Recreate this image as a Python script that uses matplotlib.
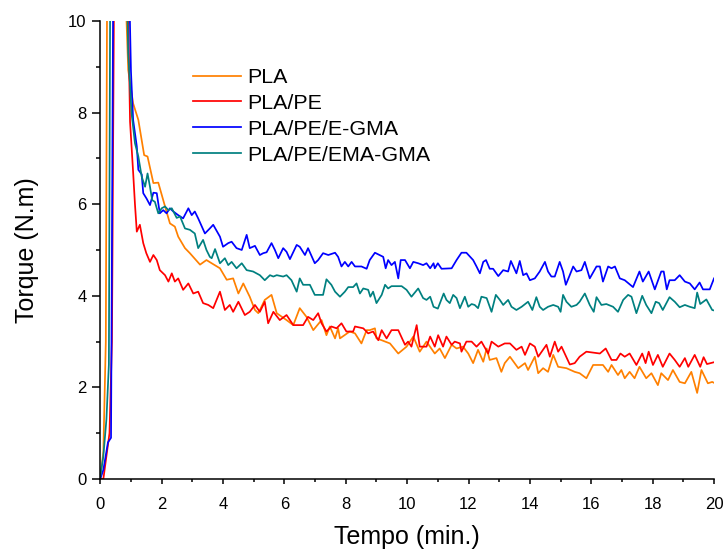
import matplotlib
matplotlib.use('Agg')
import matplotlib.pyplot as plt
from matplotlib.ticker import MultipleLocator

plt.rcParams['font.family'] = ['Liberation Sans', 'DejaVu Sans']

# PLA
pla_t = [0, 0.1, 0.18, 0.24, 0.5, 0.84, 0.91, 1.07, 1.24, 1.43, 1.54, 1.73, 1.89, 2.11, 2.27,
         2.43, 2.54, 2.76, 2.92, 3.25, 3.46, 3.63, 3.9, 4.12, 4.33, 4.5, 4.66, 4.87, 5.04, 5.15,
         5.36, 5.58, 5.75, 6.07, 6.29, 6.5, 6.72, 6.94, 7.21, 7.37, 7.48, 7.65, 7.75, 7.81, 8.13,
         8.3, 8.51, 8.68, 8.78, 8.95, 9.0, 9.17, 9.44, 9.71, 9.98, 10.2, 10.41, 10.63, 10.9, 11.06,
         11.23, 11.45, 11.61, 11.82, 11.99, 12.15, 12.31, 12.48, 12.59, 12.69, 12.91, 13.07, 13.18,
         13.35, 13.62, 13.84, 13.94, 14.16, 14.27, 14.43, 14.59, 14.76, 14.92, 15.19, 15.46, 15.62,
         15.84, 16.06, 16.38, 16.55, 16.66, 16.87, 16.98, 17.09, 17.25, 17.41, 17.57, 17.79, 17.96,
         18.17, 18.28, 18.5, 18.66, 18.88, 19.05, 19.26, 19.45, 19.59, 19.8, 19.94, 20.0]
pla_v = [0, 0.6, 3.0, 14, 25, 10.3, 8.93, 8.2, 7.84, 7.07, 7.04, 6.46, 6.47, 5.95, 5.58,
         5.51, 5.29, 5.04, 4.93, 4.68, 4.78, 4.71, 4.6, 4.35, 4.38, 4.05, 4.27, 3.98, 3.69, 3.62,
         3.91, 4.02, 3.62, 3.47, 3.36, 3.73, 3.54, 3.25, 3.47, 3.14, 3.33, 3.07, 3.29, 3.07, 3.22,
         3.18, 2.96, 3.25, 3.25, 3.29, 3.07, 3.03, 2.96, 2.74, 2.89, 3.11, 2.78, 3.0, 2.74, 2.85,
         2.64, 2.93, 2.85, 2.89, 2.74, 2.53, 2.82, 2.56, 2.85, 2.6, 2.64, 2.34, 2.53,
         2.67, 2.42, 2.53, 2.38, 2.67, 2.31, 2.42, 2.34, 2.71, 2.45, 2.42, 2.34, 2.31,
         2.2, 2.49, 2.49, 2.34, 2.49, 2.27, 2.38, 2.2, 2.34, 2.2, 2.45, 2.2, 2.31,
         2.05, 2.31, 2.16, 2.38, 2.12, 2.09, 2.34, 1.88, 2.38, 2.09, 2.12, 2.1]

# PLA/PE
pe_t = [0, 0.1, 0.2, 0.3, 0.38, 0.46, 0.62, 0.9, 0.97, 1.07, 1.13, 1.19, 1.29, 1.4, 1.5, 1.62,
        1.73, 1.84, 1.94, 2.11, 2.22, 2.33, 2.43, 2.54, 2.7, 2.87, 3.03, 3.19, 3.35, 3.52, 3.68,
        3.9, 4.06, 4.22, 4.33, 4.5, 4.71, 4.87, 5.04, 5.2, 5.36, 5.47, 5.64, 5.85, 6.07, 6.29,
        6.61, 6.77, 6.94, 7.1, 7.21, 7.37, 7.53, 7.7, 7.86, 8.02, 8.24, 8.3, 8.57, 8.73, 8.89,
        9.06, 9.17, 9.33, 9.49, 9.71, 9.93, 10.03, 10.14, 10.31, 10.41, 10.63, 10.75, 10.9, 11.01,
        11.17, 11.28, 11.45, 11.55, 11.72, 11.77, 11.93, 12.1, 12.26, 12.42, 12.64, 12.75, 12.97,
        13.18, 13.35, 13.56, 13.73, 13.84, 14.0, 14.16, 14.27, 14.54, 14.65, 14.81, 14.92, 15.03,
        15.3, 15.46, 15.62, 15.84, 16.28, 16.47, 16.66, 16.82, 16.95, 17.09, 17.25, 17.47, 17.66,
        17.77, 17.87, 18.01, 18.17, 18.33, 18.55, 18.72, 18.88, 19.05, 19.16, 19.37, 19.55, 19.66,
        19.77, 19.94, 20.0]
pe_v = [0, 0, 0.5, 1.0, 3.0, 12, 25, 10.5, 7.8, 6.7, 6.0, 5.4, 5.55, 5.15, 4.93, 4.74,
        4.89, 4.78, 4.56, 4.45, 4.31, 4.49, 4.31, 4.38, 4.13, 4.27, 4.05, 4.09, 3.84, 3.8, 3.73,
        4.09, 3.69, 3.8, 3.65, 3.87, 3.58, 3.65, 3.8, 3.65, 3.87, 3.4, 3.65, 3.47, 3.58, 3.36,
        3.36, 3.54, 3.47, 3.62, 3.4, 3.22, 3.33, 3.29, 3.4, 3.22, 3.22, 3.33, 3.29, 3.18, 3.22,
        3.03, 3.25, 3.07, 3.25, 3.25, 2.93, 3.0, 2.89, 3.36, 2.89, 2.89, 3.11, 2.89, 3.14,
        2.89, 3.11, 2.93, 3.0, 2.96, 2.78, 3.0, 3.0, 2.89, 3.0, 2.74, 3.0, 2.89,
        2.96, 2.96, 2.82, 2.89, 2.71, 2.96, 2.89, 2.67, 2.93, 2.67, 3.0, 2.78, 2.89,
        2.5, 2.53, 2.67, 2.78, 2.74, 2.85, 2.6, 2.6, 2.74, 2.67, 2.74, 2.49, 2.74,
        2.53, 2.78, 2.49, 2.71, 2.45, 2.74, 2.6, 2.45, 2.64, 2.45, 2.71, 2.45, 2.66,
        2.51, 2.54, 2.55]

# PLA/PE/E-GMA
egma_t = [0, 0.1, 0.25, 0.35, 0.43, 0.6, 0.95, 1.0, 1.07, 1.19, 1.24, 1.35, 1.4, 1.51, 1.62,
          1.73, 1.84, 1.94, 2.05, 2.16, 2.27, 2.38, 2.54, 2.7, 2.87, 2.98, 3.08, 3.19, 3.41, 3.57,
          3.68, 3.9, 4.0, 4.17, 4.28, 4.44, 4.61, 4.77, 4.87, 5.04, 5.2, 5.31, 5.42, 5.58, 5.69,
          5.8, 5.96, 6.07, 6.18, 6.4, 6.5, 6.67, 6.77, 6.99, 7.1, 7.26, 7.43, 7.65, 7.75, 7.86,
          7.97, 8.08, 8.19, 8.3, 8.51, 8.68, 8.78, 8.95, 9.1, 9.22, 9.3, 9.38, 9.49, 9.6, 9.71,
          9.79, 9.93, 10.09, 10.2, 10.36, 10.52, 10.63, 10.75, 10.86, 10.9, 11.0, 11.12, 11.45,
          11.61, 11.77, 11.93, 12.15, 12.26, 12.37, 12.48, 12.57, 12.69, 12.8, 12.97, 13.13, 13.29,
          13.38, 13.56, 13.67, 13.78, 13.89, 14.0, 14.16, 14.32, 14.49, 14.59, 14.7, 14.81, 14.97,
          15.08, 15.17, 15.28, 15.41, 15.52, 15.68, 15.79, 15.95, 16.17, 16.28, 16.38, 16.55,
          16.66, 16.77, 16.93, 17.09, 17.36, 17.57, 17.68, 17.87, 18.07, 18.28, 18.36, 18.46,
          18.55, 18.72, 18.88, 19.05, 19.21, 19.37, 19.53, 19.64, 19.86, 20.0]
egma_v = [0, 0.2, 0.8, 0.9, 12, 25, 10.5, 8.9, 7.84, 7.26, 6.75, 6.65, 6.24, 6.12, 5.98,
          6.25, 6.24, 5.8, 5.87, 5.8, 5.91, 5.84, 5.76, 5.69, 5.91, 5.76, 5.84, 5.69, 5.36, 5.47,
          5.55, 5.29, 5.07, 5.15, 5.18, 5.04, 5.0, 5.33, 5.04, 5.09, 4.89, 4.93, 4.95, 5.15, 5.0,
          4.82, 5.04, 4.96, 4.8, 5.11, 5.07, 4.89, 5.04, 4.71, 4.78, 4.93, 4.89, 4.94, 4.85, 4.64,
          4.74, 4.64, 4.74, 4.64, 4.64, 4.59, 4.78, 4.94, 4.89, 4.85, 4.6, 4.78, 4.67, 4.74, 4.38,
          4.78, 4.78, 4.6, 4.74, 4.71, 4.67, 4.71, 4.6, 4.71, 4.6, 4.71, 4.59, 4.6,
          4.78, 4.94, 4.94, 4.78, 4.64, 4.49, 4.74, 4.78, 4.59, 4.59, 4.43, 4.56, 4.53,
          4.76, 4.49, 4.76, 4.45, 4.49, 4.34, 4.38, 4.53, 4.74, 4.53, 4.42, 4.42, 4.74,
          4.53, 4.24, 4.42, 4.64, 4.53, 4.56, 4.74, 4.38, 4.64, 4.64, 4.31, 4.64,
          4.6, 4.64, 4.38, 4.34, 4.19, 4.53, 4.31, 4.53, 4.14, 4.53, 4.53, 4.14,
          4.34, 4.34, 4.45, 4.31, 4.27, 4.14, 4.29, 4.14, 4.14, 4.38]

# PLA/PE/EMA-GMA
emagma_t = [0, 0.1, 0.2, 0.28, 0.33, 0.55, 0.86, 0.91, 1.02, 1.13, 1.24, 1.35, 1.46, 1.54, 1.62,
            1.69, 1.78, 1.89, 2.0, 2.11, 2.22, 2.33, 2.49, 2.6, 2.76, 2.92, 3.08, 3.19, 3.35, 3.46,
            3.57, 3.63, 3.74, 3.9, 4.06, 4.17, 4.28, 4.44, 4.61, 4.77, 4.98, 5.2, 5.36, 5.53, 5.64,
            5.75, 5.96, 6.07, 6.23, 6.4, 6.5, 6.61, 6.83, 6.99, 7.16, 7.26, 7.37, 7.53, 7.65, 7.81,
            7.97, 8.08, 8.24, 8.35, 8.46, 8.57, 8.73, 8.8, 8.89, 9.0, 9.17, 9.28, 9.38, 9.49, 9.82,
            9.98, 10.14, 10.36, 10.52, 10.63, 10.75, 10.86, 11.0, 11.19, 11.28, 11.39, 11.5, 11.61,
            11.72, 11.88, 11.99, 12.1, 12.2, 12.31, 12.42, 12.59, 12.75, 12.89, 13.02, 13.13, 13.29,
            13.4, 13.56, 13.73, 13.94, 14.08, 14.21, 14.32, 14.43, 14.59, 14.76, 14.92, 15.0, 15.08,
            15.19, 15.35, 15.52, 15.62, 15.79, 15.95, 16.08, 16.17, 16.33, 16.49, 16.71, 16.87,
            17.04, 17.2, 17.31, 17.47, 17.66, 17.79, 17.96, 18.1, 18.21, 18.33, 18.55, 18.72, 18.88,
            19.05, 19.21, 19.37, 19.45, 19.55, 19.75, 19.94, 20.0]
emagma_v = [0.05, 0.5, 1.3, 2.5, 12, 25, 11, 9.29, 7.98, 7.33, 7.04, 6.6, 6.38, 6.67, 6.38,
            6.09, 6.05, 5.8, 5.91, 5.95, 5.87, 5.91, 5.7, 5.73, 5.47, 5.44, 5.36, 5.04, 5.22, 5.0,
            4.85, 4.82, 5.02, 4.71, 4.82, 4.67, 4.74, 4.6, 4.71, 4.56, 4.53, 4.45, 4.34, 4.45, 4.42,
            4.45, 4.42, 4.45, 4.34, 4.09, 4.38, 4.24, 4.24, 4.02, 4.02, 4.02, 4.36, 4.24, 4.09, 3.98,
            4.09, 4.19, 4.19, 4.27, 4.05, 4.16, 4.13, 3.98, 4.09, 3.84, 4.02, 4.24, 4.16, 4.21, 4.21,
            4.13, 3.98, 4.16, 3.95, 3.91, 3.98, 3.76, 3.72, 4.05, 3.91, 3.84, 4.02, 3.95,
            3.73, 3.98, 3.76, 3.82, 3.8, 3.73, 3.98, 3.95, 3.65, 4.02, 3.91, 3.8, 3.91,
            3.76, 3.69, 3.76, 3.87, 3.69, 3.97, 3.76, 3.69, 3.76, 3.8, 3.76, 3.65, 4.02,
            3.87, 3.76, 3.8, 3.87, 4.05, 3.8, 3.65, 3.97, 3.8, 3.82, 3.76, 3.65,
            3.91, 4.02, 3.98, 3.62, 4.0, 3.8, 3.62, 3.87, 3.84, 3.69, 3.97, 3.87, 3.75,
            3.8, 3.76, 3.73, 4.07, 3.82, 3.92, 3.69, 3.68]

series = [
    (pla_t, pla_v, 'PLA', '#FF8000'),
    (pe_t, pe_v, 'PLA/PE', '#FF0000'),
    (egma_t, egma_v, 'PLA/PE/E-GMA', '#0000FF'),
    (emagma_t, emagma_v, 'PLA/PE/EMA-GMA', '#008080'),
]

fig = plt.figure(figsize=(7.23, 5.5), dpi=100)
ax = fig.add_axes([0.1387, 0.129, 0.8489, 0.833])

for t, v, name, color in series:
    ax.plot(t, v, color=color, lw=1.25, label=name)

ax.set_xlim(0, 20)
ax.set_ylim(0, 10)
ax.xaxis.set_major_locator(MultipleLocator(2))
ax.xaxis.set_minor_locator(MultipleLocator(1))
ax.yaxis.set_major_locator(MultipleLocator(2))
ax.yaxis.set_minor_locator(MultipleLocator(1))

for side in ['top', 'right']:
    ax.spines[side].set_visible(False)
for side in ['left', 'bottom']:
    ax.spines[side].set_linewidth(1.1)

ax.tick_params(axis='both', which='both', direction='out', width=1.1, labelsize=12)
ax.tick_params(axis='x', which='major', length=3.6, pad=9)
ax.tick_params(axis='x', which='minor', length=2.5)
ax.tick_params(axis='y', which='major', length=6, pad=4)
ax.tick_params(axis='y', which='minor', length=3)

ax.set_xlabel('Tempo (min.)', fontsize=18, labelpad=10)
ax.set_ylabel('Torque (N.m)', fontsize=18, labelpad=21)

fig.legend(loc='upper left', bbox_to_anchor=(193 / 723, 1 - 68 / 550),
           frameon=False, fontsize=15.4, handlelength=2.25, handletextpad=0.28,
           labelspacing=0.32, borderpad=0, borderaxespad=0)

plt.savefig('out.png', dpi=100)
